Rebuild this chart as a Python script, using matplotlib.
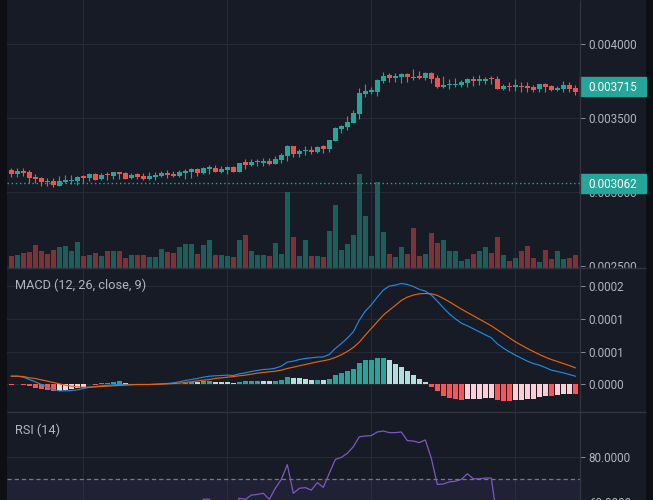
import numpy as np
import matplotlib
matplotlib.use("Agg")
import matplotlib.pyplot as plt
from matplotlib import transforms
from matplotlib.patches import Rectangle

# ---- candles, prices in millionths ----
opens = [
    3150.9, 3126.1, 3146.4, 3137.4, 3103.6, 3096.9, 3076.6, 3076.6, 3045.1, 3069.8,
    3074.4, 3078.9, 3103.6, 3099.1, 3126.1, 3087.9, 3121.6, 3110.4, 3137.4, 3132.9,
    3094.6, 3121.6, 3110.4, 3092.4, 3105.9, 3112.6, 3132.9, 3126.1, 3112.6, 3132.9,
    3139.7, 3157.7, 3130.6, 3159.9, 3166.7, 3139.7, 3153.2, 3173.4, 3139.7, 3202.7,
    3187.0, 3202.7, 3200.5, 3214.0, 3193.7, 3220.7, 3247.8, 3315.4, 3261.3, 3277.0,
    3288.3, 3274.8, 3313.1, 3295.0, 3349.1, 3430.2, 3441.5, 3470.7, 3529.3, 3666.7,
    3680.2, 3680.2, 3752.3, 3790.6, 3774.8, 3781.6, 3799.6, 3779.3, 3781.6, 3774.8,
    3806.3, 3772.6, 3711.7, 3723.0, 3723.0, 3723.0, 3741.0, 3768.0, 3754.6, 3754.6,
    3768.0, 3765.8, 3700.5, 3716.2, 3714.0, 3718.5, 3718.5, 3709.5, 3700.5, 3732.0,
    3718.5, 3693.7, 3700.5, 3725.2, 3705.0]
highs = [
    3162.2, 3164.4, 3164.4, 3150.9, 3123.9, 3105.9, 3096.9, 3094.6, 3110.4, 3117.1,
    3117.1, 3110.4, 3119.4, 3128.4, 3130.6, 3128.4, 3137.4, 3137.4, 3139.7, 3137.4,
    3132.9, 3130.6, 3128.4, 3137.4, 3137.4, 3146.4, 3153.2, 3144.2, 3150.9, 3155.4,
    3164.4, 3162.2, 3171.2, 3184.7, 3184.7, 3178.0, 3178.0, 3178.0, 3198.2, 3225.2,
    3223.0, 3225.2, 3232.0, 3232.0, 3245.5, 3263.5, 3322.1, 3315.4, 3295.0, 3315.4,
    3315.4, 3315.4, 3319.9, 3353.6, 3441.5, 3457.2, 3515.8, 3556.3, 3705.0, 3732.0,
    3714.0, 3768.0, 3813.1, 3806.3, 3808.6, 3808.6, 3806.3, 3831.1, 3819.9, 3813.1,
    3813.1, 3790.6, 3786.1, 3763.5, 3770.3, 3759.0, 3770.3, 3786.1, 3790.6, 3781.6,
    3783.8, 3783.8, 3729.8, 3747.8, 3763.5, 3747.8, 3747.8, 3723.0, 3734.3, 3741.0,
    3725.2, 3718.5, 3752.3, 3745.5, 3727.5]
lows = [
    3105.9, 3105.9, 3112.6, 3065.3, 3065.3, 3045.1, 3045.1, 3036.1, 3045.1, 3065.3,
    3056.3, 3051.8, 3065.3, 3078.9, 3083.4, 3081.1, 3083.4, 3090.1, 3090.1, 3090.1,
    3087.9, 3087.9, 3083.4, 3083.4, 3083.4, 3101.4, 3099.1, 3101.4, 3105.9, 3092.4,
    3099.1, 3112.6, 3126.1, 3126.1, 3137.4, 3132.9, 3126.1, 3135.2, 3137.4, 3159.9,
    3180.2, 3180.2, 3180.2, 3187.0, 3193.7, 3200.5, 3214.0, 3241.0, 3241.0, 3254.5,
    3261.3, 3268.0, 3268.0, 3274.8, 3349.1, 3403.2, 3421.2, 3470.7, 3497.8, 3646.4,
    3662.2, 3653.2, 3741.0, 3747.8, 3747.8, 3741.0, 3745.5, 3756.8, 3763.5, 3759.0,
    3741.0, 3707.2, 3707.2, 3696.0, 3709.5, 3709.5, 3709.5, 3718.5, 3727.5, 3729.8,
    3729.8, 3696.0, 3691.5, 3687.0, 3687.0, 3678.0, 3680.2, 3680.2, 3680.2, 3680.2,
    3687.0, 3687.0, 3680.2, 3678.0, 3657.7]
closes = [
    3126.1, 3144.2, 3130.6, 3099.1, 3092.4, 3072.1, 3069.8, 3047.3, 3076.6, 3083.4,
    3081.1, 3103.6, 3099.1, 3123.9, 3085.6, 3119.4, 3117.1, 3137.4, 3126.1, 3092.4,
    3119.4, 3105.9, 3092.4, 3110.4, 3119.4, 3132.9, 3119.4, 3112.6, 3139.7, 3146.4,
    3157.7, 3130.6, 3166.7, 3164.4, 3139.7, 3159.9, 3173.4, 3139.7, 3198.2, 3187.0,
    3207.2, 3209.5, 3214.0, 3193.7, 3227.5, 3254.5, 3315.4, 3261.3, 3281.5, 3288.3,
    3272.5, 3308.6, 3292.8, 3353.6, 3434.7, 3448.2, 3475.2, 3536.1, 3671.2, 3684.7,
    3687.0, 3759.0, 3788.3, 3774.8, 3786.1, 3799.6, 3777.1, 3772.6, 3774.8, 3806.3,
    3768.0, 3711.7, 3725.2, 3732.0, 3732.0, 3745.5, 3765.8, 3752.3, 3763.5, 3768.0,
    3763.5, 3698.2, 3716.2, 3709.5, 3718.5, 3711.7, 3702.7, 3693.7, 3729.8, 3714.0,
    3693.7, 3707.2, 3725.2, 3700.5, 3680.2]
volume = [
    35, 38, 44, 47, 68, 50, 41, 53, 62, 65,
    50, 77, 35, 38, 44, 35, 50, 50, 50, 29,
    38, 38, 38, 32, 32, 56, 47, 44, 62, 71,
    71, 41, 68, 83, 38, 38, 35, 32, 83, 98,
    50, 38, 38, 35, 74, 41, 227, 92, 35, 83,
    35, 35, 32, 110, 188, 53, 71, 98, 281, 155,
    35, 257, 107, 41, 32, 62, 41, 119, 35, 41,
    104, 74, 83, 50, 50, 20, 26, 41, 50, 62,
    44, 92, 38, 20, 29, 50, 65, 29, 17, 53,
    26, 50, 26, 29, 38]

# ---- MACD (12, 26, close, 9), millionths ----
macd_line = [
    12.7, 12.7, 11.2, 7.6, 4.1, 0.0, -4.1, -7.6, -9.7, -9.7,
    -9.2, -8.2, -6.1, -4.1, -3.1, -2.0, -1.5, -0.5, 0.0, 0.0,
    0.0, 0.0, 0.0, 0.0, 0.5, 1.0, 1.5, 2.5, 4.1, 6.1,
    7.6, 9.2, 11.2, 12.7, 13.3, 13.8, 14.3, 13.8, 16.3, 17.8,
    19.9, 21.4, 23.0, 23.5, 25.0, 28.1, 34.2, 35.7, 38.2, 39.8,
    40.8, 41.8, 42.3, 45.9, 55.1, 62.7, 70.9, 80.6, 98.4, 112.2,
    121.9, 133.6, 144.3, 150.5, 152.0, 154.5, 153.0, 149.9, 145.4, 142.8,
    136.7, 127.5, 117.3, 108.1, 100.5, 93.8, 89.8, 85.2, 80.6, 76.0,
    71.4, 62.2, 55.6, 50.0, 44.9, 40.3, 35.7, 32.1, 29.6, 26.0,
    21.9, 19.9, 17.8, 15.3, 12.7]
signal_line = [
    12.7, 12.7, 12.2, 10.2, 9.2, 7.1, 5.1, 3.1, 1.0, -1.0,
    -2.5, -3.6, -4.1, -4.1, -3.6, -3.1, -2.5, -2.0, -1.5, -1.0,
    -0.5, 0.0, 0.0, 0.0, 0.3, 0.6, 1.0, 1.5, 2.0, 3.1,
    4.1, 5.6, 6.6, 7.6, 9.2, 10.2, 11.2, 12.2, 13.3, 14.3,
    15.8, 17.3, 18.4, 19.4, 20.4, 21.9, 24.5, 26.5, 28.6, 30.6,
    32.6, 34.7, 36.2, 38.2, 41.3, 45.4, 50.5, 56.6, 64.8, 75.5,
    85.7, 95.9, 106.1, 113.7, 120.9, 128.5, 133.6, 136.7, 138.7, 139.2,
    138.7, 136.2, 131.6, 126.5, 120.9, 115.3, 110.2, 105.1, 100.0, 94.9,
    89.8, 83.6, 77.5, 71.4, 65.3, 60.2, 55.1, 50.5, 45.9, 41.8,
    38.2, 35.2, 32.1, 29.1, 25.5]
macd_hist = [
    -1.0, 0.5, -1.5, -3.0, -5.0, -7.5, -8.5, -10.5, -10.0, -9.0,
    -7.5, -6.0, -3.5, 0.5, -0.5, 2.5, 3.0, 4.0, 5.5, 2.5,
    1.5, 1.0, 0.9, 0.7, 0.5, 0.4, 0.3, 0.2, 1.0, 2.0,
    4.5, 4.0, 5.5, 5.7, 3.5, 3.4, 3.3, 2.0, 3.5, 5.5,
    5.6, 5.7, 5.5, 5.4, 5.6, 7.0, 11.5, 10.0, 9.8, 8.5,
    7.0, 7.2, 6.6, 8.7, 14.3, 17.3, 20.4, 23.4, 32.6, 37.2,
    37.4, 40.3, 40.5, 37.2, 31.1, 26.5, 20.4, 14.3, 8.2, 3.6,
    -3.6, -10.7, -17.3, -20.9, -21.9, -23.4, -22.9, -21.9, -21.8, -20.9,
    -20.4, -23.4, -25.0, -25.1, -24.0, -23.4, -22.4, -21.9, -19.4, -17.8,
    -18.0, -15.8, -14.8, -14.3, -14.8]

# ---- RSI (14) ----
rsi = [
    55.0, 58.0, 54.0, 48.0, 46.0, 42.0, 41.0, 38.0, 45.0, 47.0,
    47.0, 51.0, 50.0, 54.0, 47.0, 53.0, 52.0, 56.0, 54.0, 47.0,
    52.0, 50.0, 47.0, 51.0, 53.0, 56.0, 53.0, 51.0, 56.0, 58.0,
    59.5, 54.0, 61.3, 61.3, 56.0, 58.5, 59.0, 56.0, 61.7, 61.2,
    63.1, 63.4, 63.9, 61.2, 66.1, 70.0, 76.5, 63.9, 66.1, 66.4,
    65.3, 68.6, 66.5, 72.7, 78.8, 79.7, 81.5, 84.4, 88.8, 89.1,
    89.3, 90.9, 91.3, 90.6, 90.6, 90.9, 87.1, 86.9, 86.2, 87.4,
    79.3, 67.8, 68.0, 68.9, 69.2, 70.0, 72.5, 70.3, 70.3, 70.6,
    70.6, 52.0, 55.0, 54.0, 56.0, 54.0, 52.0, 50.0, 56.0, 53.0,
    49.0, 52.0, 55.0, 51.0, 47.0]

last_price = 0.003715
ref_price = 0.003062
price_ticks = [0.0025, 0.0030, 0.0035, 0.0040]
macd_ticks = [0.0, 0.00005, 0.0001, 0.00015]
macd_tick_labels = ["0.0000", "0.0001", "0.0001", "0.0002"]
rsi_ticks = [60, 80]
session_marks = [12, 36, 60, 84]

plt.rcParams['font.family'] = ['Roboto', 'DejaVu Sans']
plt.rcParams['lines.scale_dashes'] = False

BG = '#171b25'
EDGE = '#0d0f15'
GRID = '#262a35'
SEP = '#30343f'
TEXT = '#b2b5be'
TICK = '#8a8d96'
UP = '#26a69a'
DOWN = '#ef5350'
UP_VOL = '#1e5e5a'
DOWN_VOL = '#7c3338'
FS = 8.4

W, H = 653, 500
X0, XP, X1 = 7, 580, 646
MAIN_B, MACD_B, RSI_B = 268, 412, 593

o = np.array(opens) * 1e-6
h = np.array(highs) * 1e-6
l = np.array(lows) * 1e-6
c = np.array(closes) * 1e-6
vol = np.array(volume, dtype=float)
m = np.array(macd_line) * 1e-6
s = np.array(signal_line) * 1e-6
hist = np.array(macd_hist) * 1e-6
r = np.array(rsi)
x = np.arange(len(o))
x_lo, x_hi = -0.72, 94.78


def frame(x0, y0, x1, y1):
    return [x0 / W, 1 - y1 / H, (x1 - x0) / W, (y1 - y0) / H]


def blank(ax, color):
    ax.set_facecolor(color)
    ax.set_xticks([])
    ax.set_yticks([])
    for sp in ax.spines.values():
        sp.set_visible(False)


def style_pane(ax, ticks, labels):
    ax.set_facecolor('none')
    ax.set_xlim(x_lo, x_hi)
    ax.set_xticks(session_marks)
    ax.yaxis.tick_right()
    ax.set_yticks(ticks)
    ax.set_yticklabels(labels)
    ax.tick_params(axis='y', colors=TICK, labelcolor=TEXT, labelsize=FS,
                   length=3.6, width=0.7, pad=2.7)
    ax.tick_params(axis='x', length=0, labelbottom=False)
    ax.grid(True, color=GRID, lw=0.8)
    ax.set_axisbelow(True)
    for sp in ax.spines.values():
        sp.set_visible(False)


fig = plt.figure(figsize=(W / 100, H / 100), dpi=100, facecolor=EDGE)
back = fig.add_axes(frame(X0, 0, X1, H), zorder=0)
blank(back, BG)

# ---- price pane ----
ax = fig.add_axes(frame(X0, 0, XP, MAIN_B), zorder=1)
price_lo, price_hi = 0.0024885, 0.0042993
style_pane(ax, price_ticks, [f'{t:.6f}' for t in price_ticks])
ax.set_ylim(price_lo, price_hi)

up = c >= o
vol_h = vol / 804 * (price_hi - price_lo)
ax.bar(x, vol_h, bottom=price_lo, width=0.8,
       color=np.where(up, UP_VOL, DOWN_VOL), zorder=1)
ax.axhline(ref_price, color=UP, lw=1.0, ls=(0, (1, 2)), zorder=2)
ax.vlines(x, l, h, colors=np.where(up, UP, DOWN), lw=0.8, zorder=3)
min_body = 1.2 / MAIN_B * (price_hi - price_lo)
body = np.maximum(np.abs(c - o), min_body)
ax.bar(x, body, bottom=np.minimum(o, c), width=0.78,
       color=np.where(up, UP, DOWN), zorder=4)

blend = transforms.blended_transform_factory(ax.transAxes, ax.transData)
box_h = 19 / MAIN_B * (price_hi - price_lo)
box_w = (X1 - XP) / (XP - X0)
for p in (last_price, ref_price):
    ax.add_patch(Rectangle((1.0, p - box_h / 2), box_w, box_h, transform=blend,
                           color=UP, clip_on=False, zorder=6))
    ax.text(1.0 + 8.7 / (XP - X0), p, f'{p:.6f}', transform=blend, color='white',
            fontsize=FS, va='center_baseline', ha='left', zorder=7, clip_on=False)

# ---- MACD pane ----
cover = fig.add_axes(frame(XP, MAIN_B, X1, MACD_B), zorder=2)
blank(cover, BG)
axm = fig.add_axes(frame(X0, MAIN_B, XP, MACD_B), zorder=3)
style_pane(axm, macd_ticks, macd_tick_labels)
axm.set_ylim(-4.205e-5, 1.7813e-4)
prev = np.concatenate([[0.0], hist[:-1]])
hist_colors = np.where(hist >= 0,
                       np.where(hist > prev, '#26a69a', '#b2dfdb'),
                       np.where(hist < prev, '#ff5252', '#ffcdd2'))
axm.bar(x, hist, width=0.8, color=hist_colors, zorder=2)
axm.plot(x, m, color='#2189e0', lw=0.85, zorder=3)
axm.plot(x, s, color='#e8630a', lw=0.85, zorder=3)
axm.text(8 / (XP - X0), (MACD_B - 285.7) / (MACD_B - MAIN_B), 'MACD (12, 26, close, 9)',
         transform=axm.transAxes, color=TEXT, fontsize=9.2, va='center', ha='left')

# ---- RSI pane ----
cover2 = fig.add_axes(frame(XP, MACD_B, X1, RSI_B), zorder=4)
blank(cover2, BG)
axr = fig.add_axes(frame(X0, MACD_B, XP, RSI_B), zorder=5)
style_pane(axr, rsi_ticks, [f'{t:.4f}' for t in rsi_ticks])
axr.set_ylim(20, 99.69)
axr.axhspan(30, 70, color='#7e57c2', alpha=0.1, lw=0, zorder=1)
axr.axhline(70, color='#787b86', lw=0.9, ls=(0, (3, 2.2)), zorder=2)
axr.plot(x, r, color='#7e57c2', lw=0.9, zorder=3)
axr.text(8 / (XP - X0), (RSI_B - 430) / (RSI_B - MACD_B), 'RSI (14)',
         transform=axr.transAxes, color=TEXT, fontsize=9.2, va='center', ha='left')

# ---- pane separators and price-scale border ----
top = fig.add_axes([0, 0, 1, 1], zorder=10)
top.set_facecolor('none')
top.set_xlim(0, W)
top.set_ylim(H, 0)
top.axis('off')
top.hlines([MAIN_B, MACD_B], X0, X1, color=SEP, lw=1.0)
top.vlines(XP, 0, H, color=SEP, lw=1.0)

fig.savefig('out.png', dpi=100, facecolor=fig.get_facecolor())
